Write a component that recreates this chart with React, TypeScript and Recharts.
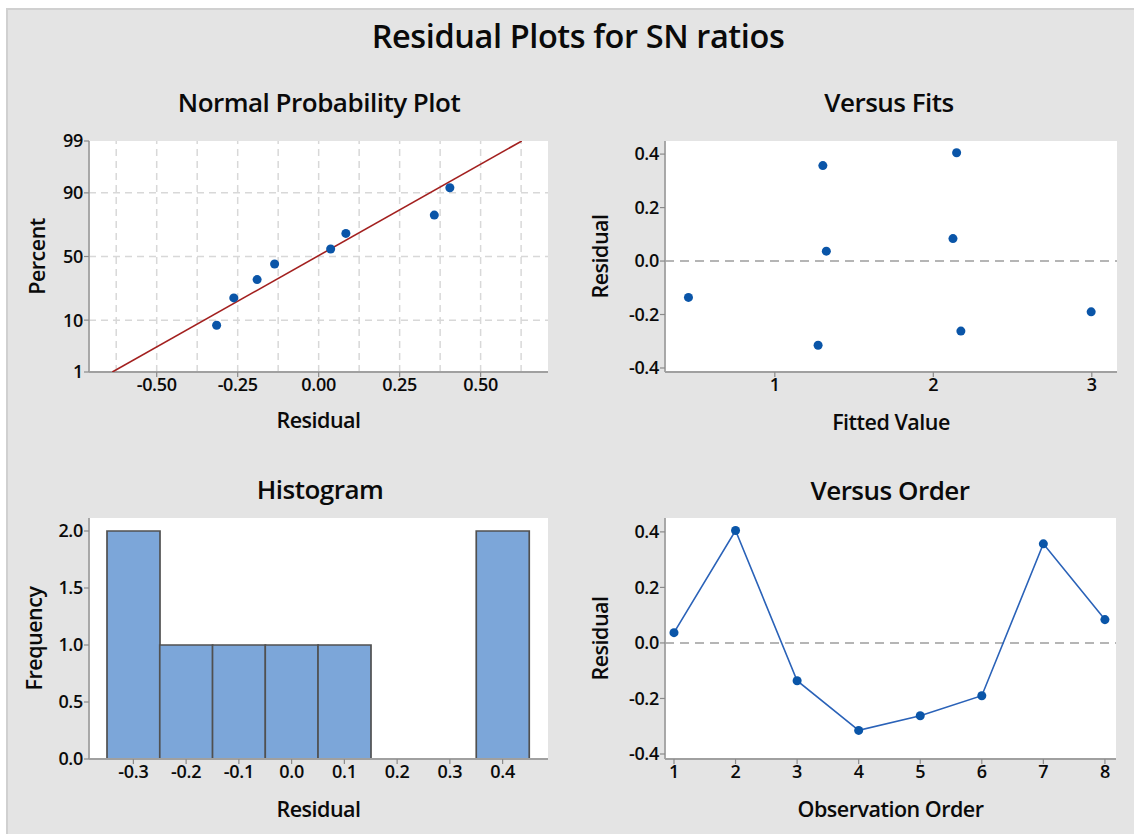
import React from 'react';
import {
  ScatterChart,
  Scatter,
  XAxis,
  YAxis,
  CartesianGrid,
  ReferenceLine,
  BarChart,
  Bar,
} from 'recharts';

// ---------------- data ----------------
const observationOrder = [1, 2, 3, 4, 5, 6, 7, 8];
const residuals = [0.037, 0.405, -0.136, -0.315, -0.262, -0.19, 0.357, 0.084];
const fittedValues = [1.325, 2.147, 0.455, 1.273, 2.174, 2.996, 1.303, 2.124];

// normal probability plot (percent of each sorted residual)
const probPercents = [8.3, 20.2, 32.1, 44.0, 56.0, 67.9, 79.8, 91.7];
const fitLineResiduals = [-0.637, 0.627];
const fitLinePercents = [1, 99];
const percentTicks = [1, 10, 50, 90, 99];
const percentGrid = [10, 50, 90];
const probResidualTicks = [-0.5, -0.25, 0, 0.25, 0.5];
const probResidualGrid = [-0.625, -0.5, -0.375, -0.25, -0.125, 0, 0.125, 0.25, 0.375, 0.5, 0.625];

// histogram
const histBins = ['-0.3', '-0.2', '-0.1', '0.0', '0.1', '0.2', '0.3', '0.4'];
const histCounts = [2, 1, 1, 1, 1, 0, 0, 2];
const histTicks = [0, 0.5, 1, 1.5, 2];

// versus plots
const residualTicks = [-0.4, -0.2, 0, 0.2, 0.4];
const fitTicks = [1, 2, 3];

// ---------------- helpers ----------------
function probit(p: number): number {
  const a = [-3.969683028665376e1, 2.209460984245205e2, -2.759285104469687e2, 1.38357751867269e2, -3.066479806614716e1, 2.506628277459239];
  const b = [-5.447609879822406e1, 1.615858368580409e2, -1.556989798598866e2, 6.680131188771972e1, -1.328068155288572e1];
  const c = [-7.784894002430293e-3, -3.223964580411365e-1, -2.400758277161838, -2.549732539343734, 4.374664141464968, 2.938163982698783];
  const d = [7.784695709041462e-3, 3.224671290700398e-1, 2.445134137142996, 3.754408661907416];
  const plow = 0.02425;
  const phigh = 1 - plow;
  if (p < plow) {
    const q = Math.sqrt(-2 * Math.log(p));
    return (((((c[0] * q + c[1]) * q + c[2]) * q + c[3]) * q + c[4]) * q + c[5]) / ((((d[0] * q + d[1]) * q + d[2]) * q + d[3]) * q + 1);
  }
  if (p <= phigh) {
    const q = p - 0.5;
    const r = q * q;
    return ((((((a[0] * r + a[1]) * r + a[2]) * r + a[3]) * r + a[4]) * r + a[5]) * q) / (((((b[0] * r + b[1]) * r + b[2]) * r + b[3]) * r + b[4]) * r + 1);
  }
  const q = Math.sqrt(-2 * Math.log(1 - p));
  return -(((((c[0] * q + c[1]) * q + c[2]) * q + c[3]) * q + c[4]) * q + c[5]) / ((((d[0] * q + d[1]) * q + d[2]) * q + d[3]) * q + 1);
}

const sortedResiduals = [...residuals].sort((x, y) => x - y);
const probData = sortedResiduals.map((r, i) => ({ x: r, z: probit(probPercents[i] / 100) }));
const fitLineData = fitLineResiduals.map((r, i) => ({ x: r, z: probit(fitLinePercents[i] / 100) }));
const percentTickZ = percentTicks.map((p) => probit(p / 100));
const fitsData = residuals.map((r, i) => ({ x: fittedValues[i], y: r }));
const orderData = residuals.map((r, i) => ({ x: observationOrder[i], y: r }));
const histData = histBins.map((b, i) => ({ bin: b, count: histCounts[i] }));

// ---------------- styles ----------------
const FONT = '"Open Sans", "Noto Sans", sans-serif';
const BG = '#e4e4e4';
const FRAME = '#a0a0a0';
const POINT = '#0a55a8';
const tickStyle = { fill: '#0a0a0a', fontSize: 18, fontWeight: 600, fontFamily: FONT, letterSpacing: '-0.3px' };
const tickLineStyle = { stroke: '#8a8a8a', strokeWidth: 1.2 };
const axisLineStyle = { stroke: FRAME, strokeWidth: 1.8 };
const labelStyle = { fill: '#0a0a0a', fontSize: 21.5, fontWeight: 600, fontFamily: FONT, letterSpacing: '-0.5px' };

const xLabel = (value: string, offset: number) => ({
  value,
  position: 'insideBottom' as const,
  offset,
  ...labelStyle,
});
const yLabel = (value: string, offset: number) => ({
  value,
  position: 'insideLeft' as const,
  angle: -90,
  offset,
  ...labelStyle,
  style: { textAnchor: 'middle' as const },
});

const frameAxes = () => [
  <XAxis
    key="ft"
    xAxisId="frameTop"
    orientation="top"
    type="number"
    domain={[0, 1]}
    height={0}
    tick={false}
    tickLine={false}
    axisLine={axisLineStyle}
    allowDataOverflow
  />,
  <YAxis
    key="fr"
    yAxisId="frameRight"
    orientation="right"
    type="number"
    domain={[0, 1]}
    width={0}
    tick={false}
    tickLine={false}
    axisLine={axisLineStyle}
    allowDataOverflow
  />,
];

const fmt1 = (v: number) => (Math.abs(v) < 1e-9 ? '0.0' : v.toFixed(1));
const fmt2 = (v: number) => (Math.abs(v) < 1e-9 ? '0.00' : v.toFixed(2));

const titleStyle = (centerX: number, top: number, size: number, spacing: number): React.CSSProperties => ({
  position: 'absolute',
  left: centerX - 300,
  width: 600,
  top,
  textAlign: 'center',
  fontFamily: FONT,
  fontSize: size,
  fontWeight: 600,
  lineHeight: `${size}px`,
  letterSpacing: `${spacing}px`,
  color: '#0a0a0a',
  whiteSpace: 'nowrap',
});

function NormalPlot() {
  return (
    <ScatterChart width={570} height={330} margin={{ top: 21, right: 22, bottom: 18, left: 0 }}>
      <CartesianGrid fill="#ffffff" horizontal={false} vertical={false} />
      {probResidualGrid.map((v) => (
        <ReferenceLine key={'gx' + v} x={v} stroke="#d8d8d8" strokeDasharray="7 5" strokeWidth={1.5} />
      ))}
      {percentGrid.map((p) => (
        <ReferenceLine key={'gy' + p} y={probit(p / 100)} stroke="#d8d8d8" strokeDasharray="7 5" strokeWidth={1.5} />
      ))}
      <XAxis
        type="number"
        dataKey="x"
        domain={[-0.709, 0.708]}
        ticks={probResidualTicks}
        tickFormatter={fmt2}
        allowDataOverflow
        height={60}
        tick={tickStyle}
        tickLine={tickLineStyle}
        tickSize={5}
        tickMargin={1}
        axisLine={axisLineStyle}
        label={xLabel('Residual', 4)}
      />
      <YAxis
        type="number"
        dataKey="z"
        domain={[percentTickZ[0], percentTickZ[percentTickZ.length - 1]]}
        ticks={percentTickZ}
        tickFormatter={(v: number) => {
          const i = percentTickZ.findIndex((z) => Math.abs(z - v) < 1e-6);
          return i >= 0 ? String(percentTicks[i]) : '';
        }}
        allowDataOverflow
        width={89}
        tick={tickStyle}
        tickLine={tickLineStyle}
        tickSize={5}
        tickMargin={1}
        axisLine={axisLineStyle}
        label={yLabel('Percent', 37)}
      />
      {frameAxes()}
      <Scatter
        data={fitLineData}
        dataKey="z"
        line={{ stroke: '#a3201f', strokeWidth: 1.6 }}
        shape={() => <g />}
        isAnimationActive={false}
      />
      <Scatter data={probData} dataKey="z" fill={POINT} isAnimationActive={false} />
    </ScatterChart>
  );
}

function VersusFits() {
  return (
    <ScatterChart width={564} height={330} margin={{ top: 21, right: 17, bottom: 18, left: 0 }}>
      <CartesianGrid fill="#ffffff" horizontal={false} vertical={false} />
      <ReferenceLine y={0} stroke="#9d9d9d" strokeDasharray="9 6" strokeWidth={1.6} />
      <XAxis
        type="number"
        dataKey="x"
        domain={[0.307, 3.159]}
        ticks={fitTicks}
        allowDataOverflow
        height={60}
        tick={tickStyle}
        tickLine={tickLineStyle}
        tickSize={5}
        tickMargin={1}
        axisLine={axisLineStyle}
        label={xLabel('Fitted Value', 2)}
      />
      <YAxis
        type="number"
        dataKey="y"
        domain={[-0.415, 0.449]}
        ticks={residualTicks}
        tickFormatter={fmt1}
        allowDataOverflow
        width={95}
        tick={tickStyle}
        tickLine={tickLineStyle}
        tickSize={5}
        tickMargin={1}
        axisLine={axisLineStyle}
        label={yLabel('Residual', 30.5)}
      />
      {frameAxes()}
      <Scatter data={fitsData} dataKey="y" fill={POINT} isAnimationActive={false} />
    </ScatterChart>
  );
}

function Histogram() {
  return (
    <BarChart
      width={570}
      height={334}
      data={histData}
      margin={{ top: 18, right: 22, bottom: 15, left: 0 }}
      barCategoryGap={0}
      barGap={0}
    >
      <CartesianGrid fill="#ffffff" horizontal={false} vertical={false} />
      <XAxis
        dataKey="bin"
        type="category"
        padding={{ left: 18, right: 19 }}
        height={60}
        tick={tickStyle}
        tickLine={tickLineStyle}
        tickSize={5}
        tickMargin={1}
        axisLine={axisLineStyle}
        interval={0}
        label={xLabel('Residual', 2)}
      />
      <YAxis
        type="number"
        domain={[0, 2.114]}
        ticks={histTicks}
        tickFormatter={fmt1}
        allowDataOverflow
        width={89}
        tick={tickStyle}
        tickLine={tickLineStyle}
        tickSize={5}
        tickMargin={1}
        axisLine={axisLineStyle}
        label={yLabel('Frequency', 34)}
      />
      {frameAxes()}
      <Bar dataKey="count" fill="#7ca6d9" stroke="#505050" strokeWidth={1.7} isAnimationActive={false} />
    </BarChart>
  );
}

function VersusOrder() {
  return (
    <ScatterChart width={564} height={334} margin={{ top: 18, right: 18, bottom: 15, left: 0 }}>
      <CartesianGrid fill="#ffffff" horizontal={false} vertical={false} />
      <ReferenceLine y={0} stroke="#9d9d9d" strokeDasharray="9 6" strokeWidth={1.6} />
      <XAxis
        type="number"
        dataKey="x"
        domain={[0.854, 8.18]}
        ticks={observationOrder}
        allowDataOverflow
        height={60}
        tick={tickStyle}
        tickLine={tickLineStyle}
        tickSize={5}
        tickMargin={1}
        axisLine={axisLineStyle}
        label={xLabel('Observation Order', 2)}
      />
      <YAxis
        type="number"
        dataKey="y"
        domain={[-0.418, 0.45]}
        ticks={residualTicks}
        tickFormatter={fmt1}
        allowDataOverflow
        width={95}
        tick={tickStyle}
        tickLine={tickLineStyle}
        tickSize={5}
        tickMargin={1}
        axisLine={axisLineStyle}
        label={yLabel('Residual', 30.5)}
      />
      {frameAxes()}
      <Scatter
        data={orderData}
        dataKey="y"
        fill={POINT}
        line={{ stroke: '#2a62b8', strokeWidth: 1.6 }}
        isAnimationActive={false}
      />
    </ScatterChart>
  );
}

export default function App() {
  return (
    <div
      style={{
        position: 'absolute',
        left: 0,
        top: 0,
        width: 1134,
        height: 834,
        overflow: 'hidden',
        background: '#ffffff',
        fontFamily: FONT,
      }}
    >
      <div
        style={{
          position: 'absolute',
          left: 6,
          top: 8,
          width: 1128,
          height: 826,
          boxSizing: 'border-box',
          background: BG,
          borderLeft: '2px solid #d0d0d0',
          borderTop: '2px solid #d0d0d0',
        }}
      />
      <div style={titleStyle(578, 20, 32.5, -0.4)}>Residual Plots for SN ratios</div>
      <div style={titleStyle(319, 89, 26, -0.5)}>Normal Probability Plot</div>
      <div style={titleStyle(889, 89, 26, -0.5)}>Versus Fits</div>
      <div style={titleStyle(320, 476, 26, -0.5)}>Histogram</div>
      <div style={titleStyle(890, 477, 26, -0.5)}>Versus Order</div>

      <div style={{ position: 'absolute', left: 0, top: 120 }}>
        <NormalPlot />
      </div>
      <div style={{ position: 'absolute', left: 570, top: 120 }}>
        <VersusFits />
      </div>
      <div style={{ position: 'absolute', left: 0, top: 500 }}>
        <Histogram />
      </div>
      <div style={{ position: 'absolute', left: 570, top: 500 }}>
        <VersusOrder />
      </div>
    </div>
  );
}
